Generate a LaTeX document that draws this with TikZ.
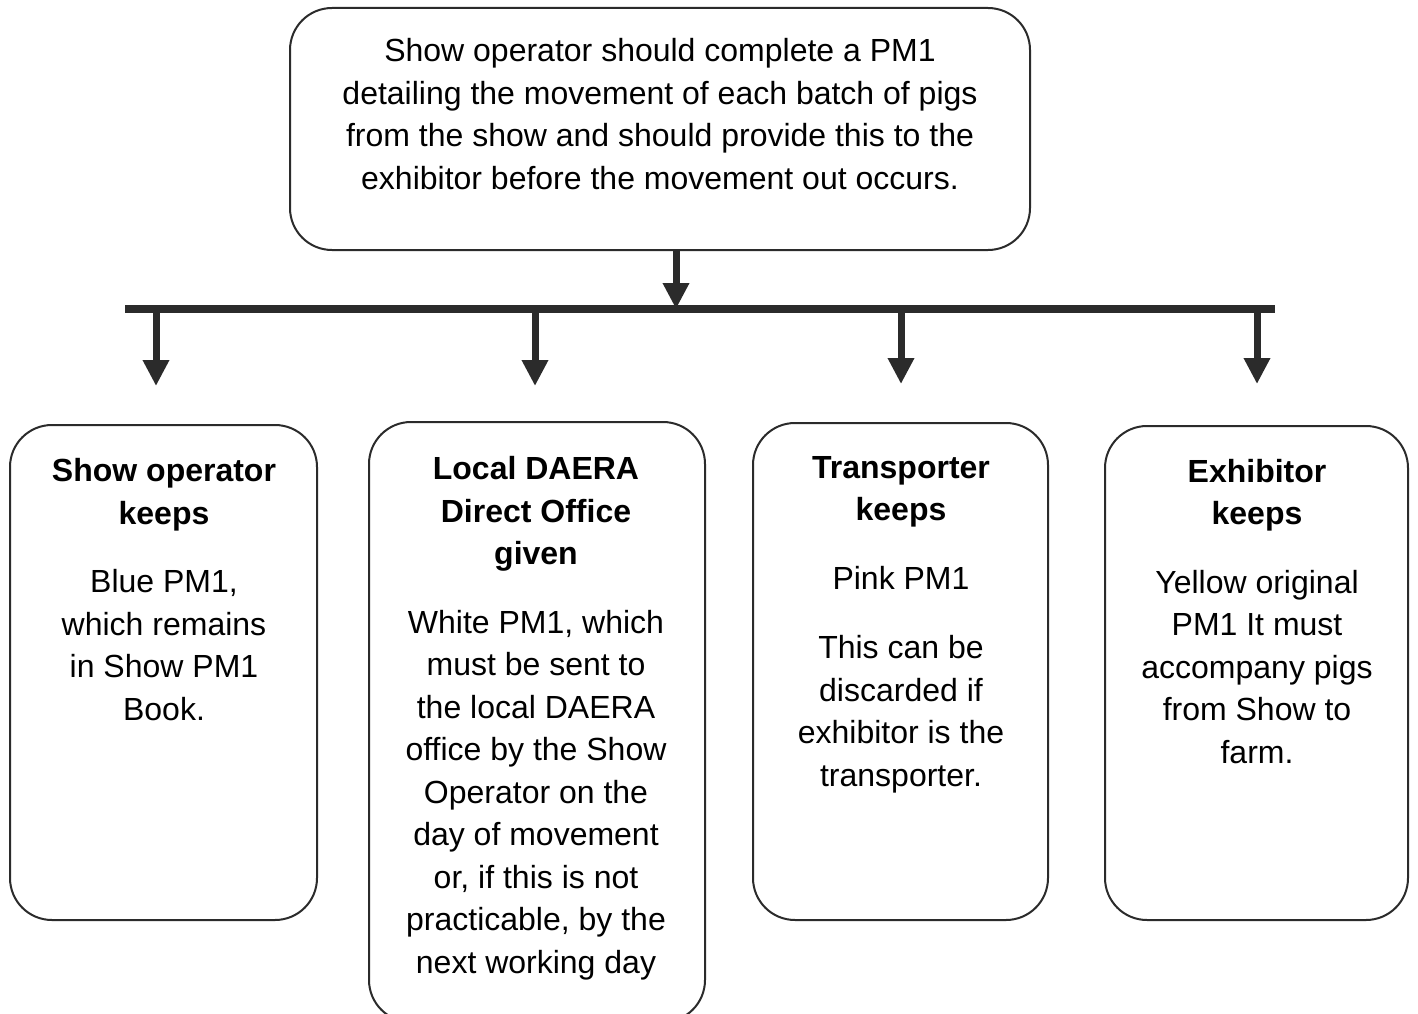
\documentclass[tikz,border=0pt]{standalone}
\usepackage{fontspec}
\setmainfont{Liberation Sans}
\usetikzlibrary{arrows.meta}
\definecolor{ink}{HTML}{2B2B2B}
\tikzset{
  box/.style={draw=ink, line width=2pt, rounded corners=42pt, fill=white},
  txt/.style={align=center, font=\fontsize{32}{42.5}\selectfont, text=black, inner sep=0pt, anchor=base},
  bar/.style={draw=ink, line width=8pt},
  arr/.style={draw=ink, line width=7pt, -{Triangle[width=25pt,length=26pt]}}
}
\begin{document}
\begin{tikzpicture}[x=1pt,y=-1pt]
\useasboundingbox (0,0) rectangle (1418,1014);
% boxes
\node[box, minimum width=740pt, minimum height=242pt] (top) at (660,129) {};
\node[box, minimum width=307pt, minimum height=495pt] (b1) at (163.5,672.5) {};
\node[box, minimum width=336pt, minimum height=600pt] (b2) at (537,722) {};
\node[box, minimum width=295pt, minimum height=497pt] (b3) at (900.5,671.5) {};
\node[box, minimum width=303pt, minimum height=494pt] (b4) at (1256.5,673) {};
% texts (anchor=base is the baseline of the last line)
\node[txt] (ttop) at (660,189) {Show operator should complete a PM1\\detailing the movement of each batch of pigs\\from the show and should provide this to the\\exhibitor before the movement out occurs.};
\node[txt] (t1) at (164,720) {\textbf{Show operator}\\\textbf{keeps}\\[26pt]Blue PM1,\\which remains\\in Show PM1\\Book.};
\node[txt] (t2) at (536,973) {\textbf{Local DAERA}\\\textbf{Direct Office}\\\textbf{given}\\[26pt]White PM1, which\\must be sent to\\the local DAERA\\office by the Show\\Operator on the\\day of movement\\or, if this is not\\practicable, by the\\next working day};
\node[txt] (t3) at (901,786) {\textbf{Transporter}\\\textbf{keeps}\\[26pt]Pink PM1\\[27pt]This can be\\discarded if\\exhibitor is the\\transporter.};
\node[txt] (t4) at (1257,763) {\textbf{Exhibitor}\\\textbf{keeps}\\[26pt]Yellow original\\PM1 It must\\accompany pigs\\from Show to\\farm.};
% connectors
\coordinate (barL) at (125,309);
\coordinate (barR) at (1275,309);
\coordinate (barM) at (676,309);
\coordinate (d1) at (156,309);
\coordinate (d2) at (535,309);
\coordinate (d3) at (901,309);
\coordinate (d4) at (1257,309);
\coordinate (e1) at (156,386);
\coordinate (e2) at (535,386);
\coordinate (e3) at (901,384);
\coordinate (e4) at (1257,384);
\draw[bar] (barL) -- (barR);
\draw[arr] (top.south -| barM) -- (barM);
\draw[arr] (d1) -- (e1);
\draw[arr] (d2) -- (e2);
\draw[arr] (d3) -- (e3);
\draw[arr] (d4) -- (e4);
\end{tikzpicture}
\end{document}
